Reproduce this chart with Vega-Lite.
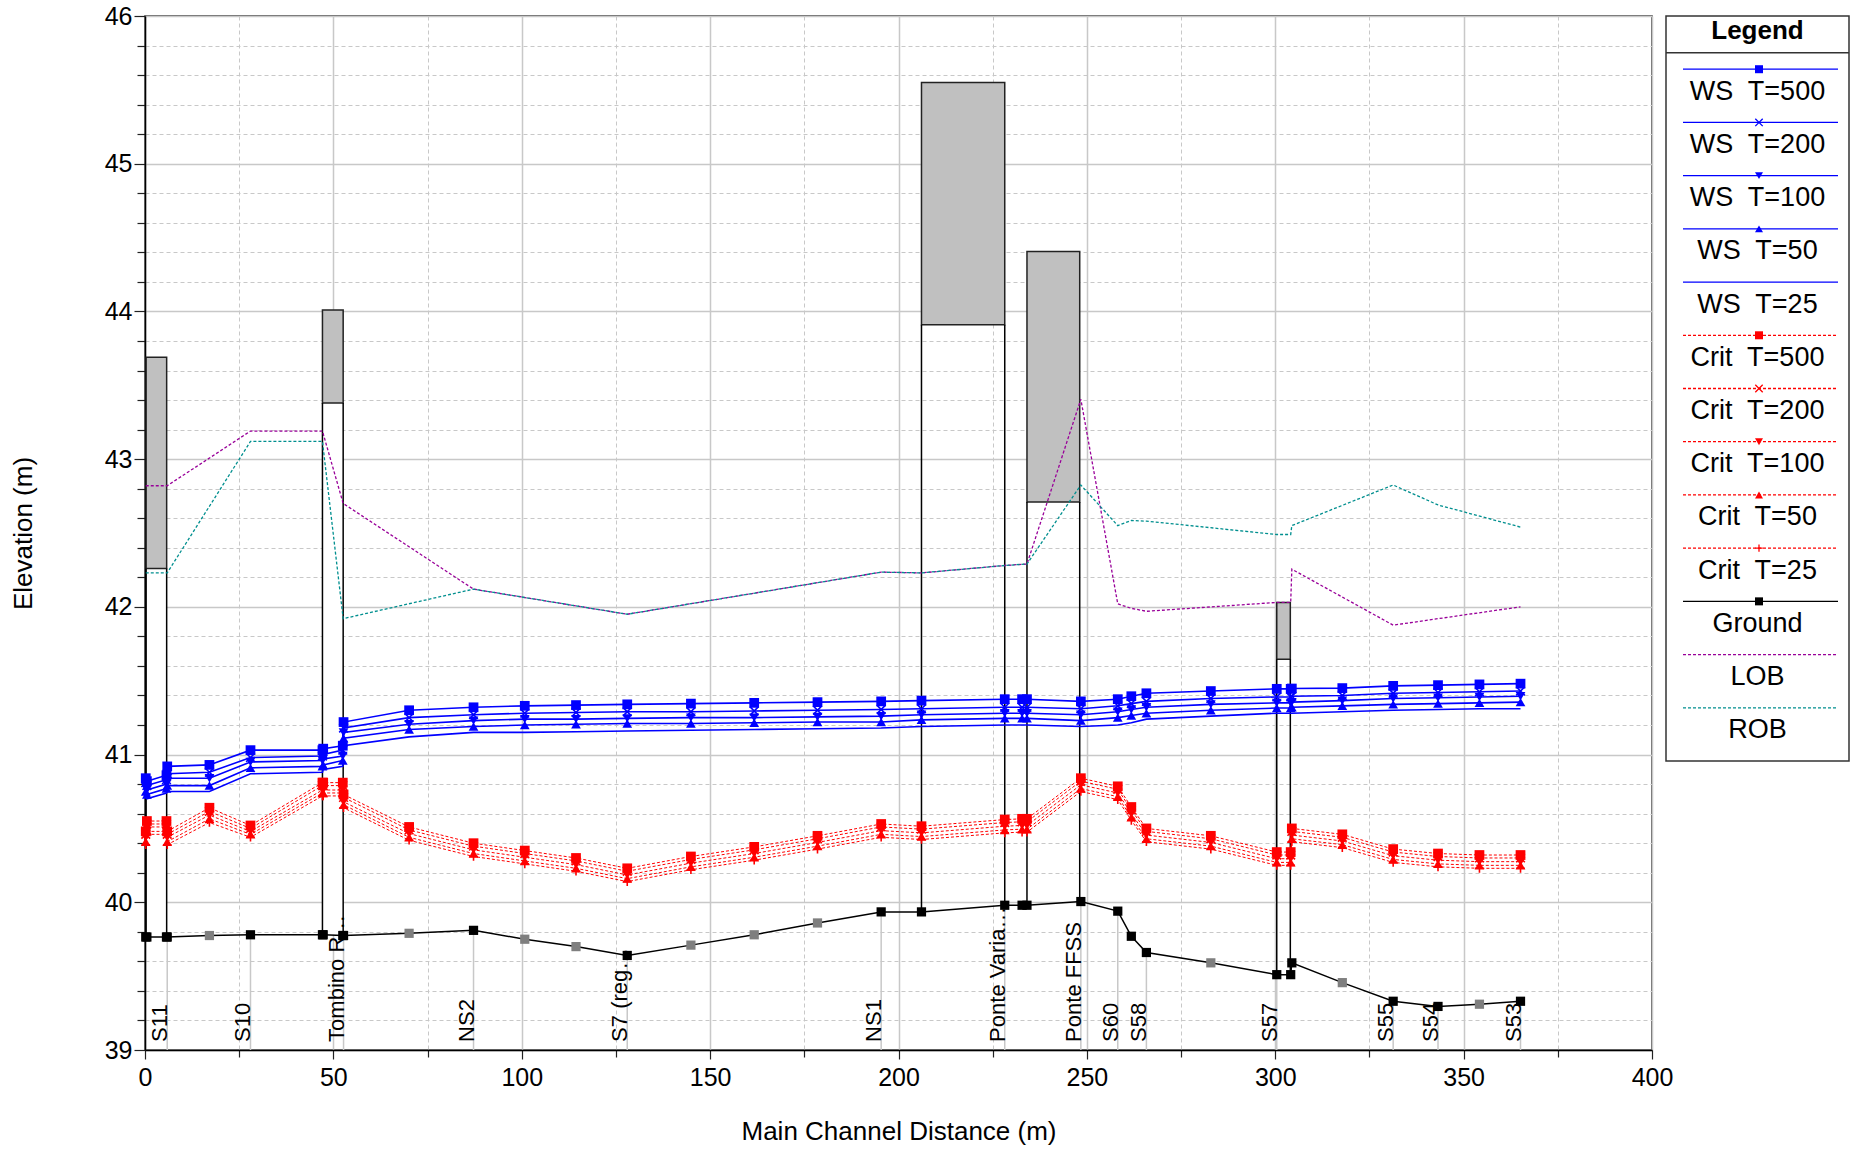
{
  "$schema": "https://vega.github.io/schema/vega-lite/v6.json",
  "padding": {"left": 9, "top": 3, "right": 0, "bottom": 0},
  "spacing": 14,
  "bounds": "flush",
  "config": {
    "font": "Liberation Sans",
    "view": {"stroke": "#333333", "strokeWidth": 1.5}
  },
  "datasets": {
    "st": [
      {"x":0.2,"g":39.765,"interp":"no","w500":40.84,"w200":40.81,"w100":40.78,"w50":40.75,"w25":40.72,"c500":40.48,"c200":40.46,"c100":40.44,"c50":40.41,"c25":40.39},
      {"x":0.5,"g":39.765,"interp":"no","w500":40.82,"w200":40.79,"w100":40.76,"w50":40.73,"w25":40.70,"c500":40.55,"c200":40.53,"c100":40.51,"c50":40.48,"c25":40.46},
      {"x":5.7,"g":39.765,"interp":"no","w500":40.86,"w200":40.83,"w100":40.80,"w50":40.77,"w25":40.74,"c500":40.55,"c200":40.53,"c100":40.51,"c50":40.48,"c25":40.46},
      {"x":5.9,"g":39.765,"interp":"no","w500":40.92,"w200":40.87,"w100":40.84,"w50":40.79,"w25":40.75,"c500":40.48,"c200":40.46,"c100":40.44,"c50":40.41,"c25":40.39},
      {"x":17.1,"g":39.775,"interp":"yes","w500":40.93,"w200":40.88,"w100":40.84,"w50":40.79,"w25":40.75,"c500":40.64,"c200":40.615,"c100":40.59,"c50":40.565,"c25":40.54},
      {"x":28.0,"g":39.78,"interp":"no","w500":41.03,"w200":40.98,"w100":40.95,"w50":40.91,"w25":40.87,"c500":40.52,"c200":40.50,"c100":40.48,"c50":40.46,"c25":40.44},
      {"x":47.1,"g":39.78,"interp":"no","w500":41.03,"w200":40.99,"w100":40.96,"w50":40.92,"w25":40.88,"c500":40.81,"c200":40.79,"c100":40.76,"c50":40.74,"c25":40.72},
      {"x":47.3,"g":39.78,"interp":"no","w500":41.04,"w200":41.00,"w100":40.97,"w50":40.93,"w25":40.90,"c500":40.81,"c200":40.79,"c100":40.76,"c50":40.74,"c25":40.72},
      {"x":52.5,"g":39.775,"interp":"no","w500":41.06,"w200":41.03,"w100":40.99,"w50":40.96,"w25":40.92,"c500":40.81,"c200":40.79,"c100":40.76,"c50":40.74,"c25":40.72},
      {"x":52.7,"g":39.775,"interp":"no","w500":41.22,"w200":41.18,"w100":41.15,"w50":41.11,"w25":41.06,"c500":40.73,"c200":40.71,"c100":40.68,"c50":40.66,"c25":40.64},
      {"x":70.1,"g":39.79,"interp":"yes","w500":41.30,"w200":41.25,"w100":41.205,"w50":41.17,"w25":41.12,"c500":40.51,"c200":40.49,"c100":40.465,"c50":40.44,"c25":40.42},
      {"x":87.2,"g":39.81,"interp":"no","w500":41.32,"w200":41.27,"w100":41.23,"w50":41.19,"w25":41.15,"c500":40.40,"c200":40.38,"c100":40.355,"c50":40.33,"c25":40.31},
      {"x":100.8,"g":39.75,"interp":"yes","w500":41.33,"w200":41.28,"w100":41.24,"w50":41.20,"w25":41.15,"c500":40.35,"c200":40.33,"c100":40.305,"c50":40.28,"c25":40.26},
      {"x":114.4,"g":39.70,"interp":"yes","w500":41.335,"w200":41.285,"w100":41.24,"w50":41.205,"w25":41.155,"c500":40.30,"c200":40.28,"c100":40.255,"c50":40.23,"c25":40.21},
      {"x":128.0,"g":39.64,"interp":"no","w500":41.34,"w200":41.29,"w100":41.245,"w50":41.21,"w25":41.16,"c500":40.23,"c200":40.21,"c100":40.185,"c50":40.16,"c25":40.14},
      {"x":144.9,"g":39.71,"interp":"yes","w500":41.345,"w200":41.29,"w100":41.25,"w50":41.21,"w25":41.165,"c500":40.31,"c200":40.29,"c100":40.265,"c50":40.24,"c25":40.22},
      {"x":161.7,"g":39.78,"interp":"yes","w500":41.35,"w200":41.295,"w100":41.25,"w50":41.215,"w25":41.17,"c500":40.375,"c200":40.355,"c100":40.33,"c50":40.305,"c25":40.285},
      {"x":178.5,"g":39.86,"interp":"yes","w500":41.355,"w200":41.30,"w100":41.255,"w50":41.22,"w25":41.175,"c500":40.45,"c200":40.43,"c100":40.405,"c50":40.38,"c25":40.36},
      {"x":195.4,"g":39.935,"interp":"no","w500":41.36,"w200":41.305,"w100":41.26,"w50":41.22,"w25":41.18,"c500":40.53,"c200":40.51,"c100":40.485,"c50":40.46,"c25":40.44},
      {"x":206.1,"g":39.935,"interp":"no","w500":41.365,"w200":41.31,"w100":41.27,"w50":41.235,"w25":41.19,"c500":40.515,"c200":40.495,"c100":40.47,"c50":40.445,"c25":40.425},
      {"x":228.2,"g":39.98,"interp":"no","w500":41.375,"w200":41.32,"w100":41.28,"w50":41.245,"w25":41.20,"c500":40.56,"c200":40.54,"c100":40.515,"c50":40.49,"c25":40.47},
      {"x":232.8,"g":39.98,"interp":"no","w500":41.375,"w200":41.32,"w100":41.28,"w50":41.245,"w25":41.20,"c500":40.565,"c200":40.545,"c100":40.52,"c50":40.495,"c25":40.475},
      {"x":234.1,"g":39.98,"interp":"no","w500":41.375,"w200":41.32,"w100":41.28,"w50":41.245,"w25":41.20,"c500":40.565,"c200":40.545,"c100":40.52,"c50":40.495,"c25":40.475},
      {"x":248.4,"g":40.005,"interp":"no","w500":41.36,"w200":41.31,"w100":41.27,"w50":41.23,"w25":41.19,"c500":40.84,"c200":40.82,"c100":40.795,"c50":40.77,"c25":40.75},
      {"x":258.2,"g":39.94,"interp":"no","w500":41.375,"w200":41.33,"w100":41.29,"w50":41.25,"w25":41.20,"c500":40.785,"c200":40.765,"c100":40.74,"c50":40.715,"c25":40.695},
      {"x":261.8,"g":39.77,"interp":"no","w500":41.395,"w200":41.345,"w100":41.305,"w50":41.265,"w25":41.215,"c500":40.645,"c200":40.625,"c100":40.60,"c50":40.575,"c25":40.555},
      {"x":265.8,"g":39.66,"interp":"no","w500":41.415,"w200":41.36,"w100":41.32,"w50":41.28,"w25":41.24,"c500":40.50,"c200":40.48,"c100":40.455,"c50":40.43,"c25":40.41},
      {"x":282.9,"g":39.59,"interp":"yes","w500":41.43,"w200":41.38,"w100":41.34,"w50":41.30,"w25":41.26,"c500":40.45,"c200":40.43,"c100":40.405,"c50":40.38,"c25":40.36},
      {"x":300.4,"g":39.51,"interp":"no","w500":41.445,"w200":41.39,"w100":41.35,"w50":41.315,"w25":41.28,"c500":40.34,"c200":40.32,"c100":40.295,"c50":40.27,"c25":40.25},
      {"x":304.1,"g":39.51,"interp":"no","w500":41.445,"w200":41.39,"w100":41.35,"w50":41.315,"w25":41.28,"c500":40.34,"c200":40.32,"c100":40.295,"c50":40.27,"c25":40.25},
      {"x":304.4,"g":39.59,"interp":"no","w500":41.447,"w200":41.395,"w100":41.355,"w50":41.32,"w25":41.28,"c500":40.50,"c200":40.48,"c100":40.455,"c50":40.43,"c25":40.41},
      {"x":317.8,"g":39.456,"interp":"yes","w500":41.45,"w200":41.40,"w100":41.365,"w50":41.33,"w25":41.29,"c500":40.46,"c200":40.44,"c100":40.415,"c50":40.39,"c25":40.37},
      {"x":331.3,"g":39.33,"interp":"no","w500":41.465,"w200":41.415,"w100":41.38,"w50":41.34,"w25":41.30,"c500":40.36,"c200":40.34,"c100":40.315,"c50":40.29,"c25":40.27},
      {"x":343.2,"g":39.295,"interp":"no","w500":41.47,"w200":41.42,"w100":41.385,"w50":41.345,"w25":41.305,"c500":40.33,"c200":40.31,"c100":40.285,"c50":40.26,"c25":40.24},
      {"x":354.2,"g":39.31,"interp":"yes","w500":41.475,"w200":41.425,"w100":41.39,"w50":41.35,"w25":41.31,"c500":40.32,"c200":40.30,"c100":40.275,"c50":40.25,"c25":40.23},
      {"x":365.1,"g":39.33,"interp":"no","w500":41.48,"w200":41.43,"w100":41.395,"w50":41.355,"w25":41.31,"c500":40.32,"c200":40.30,"c100":40.275,"c50":40.25,"c25":40.23}
    ],
    "banks": [
      {"x":0.2,"lob":42.82,"rob":42.23},
      {"x":5.9,"lob":42.82,"rob":42.23},
      {"x":28.0,"lob":43.19,"rob":43.12},
      {"x":47.1,"lob":43.19,"rob":43.12},
      {"x":52.6,"lob":42.70,"rob":41.92},
      {"x":87.2,"lob":42.12,"rob":42.12},
      {"x":128.0,"lob":41.95,"rob":41.95},
      {"x":195.4,"lob":42.235,"rob":42.235},
      {"x":206.1,"lob":42.23,"rob":42.23},
      {"x":228.2,"lob":42.28,"rob":42.28},
      {"x":234.1,"lob":42.29,"rob":42.29},
      {"x":248.4,"lob":43.405,"rob":42.825},
      {"x":258.2,"lob":42.02,"rob":42.55},
      {"x":261.8,"lob":41.99,"rob":42.585},
      {"x":265.8,"lob":41.97,"rob":42.58},
      {"x":300.4,"lob":42.03,"rob":42.49},
      {"x":304.1,"lob":42.03,"rob":42.49},
      {"x":304.4,"lob":42.255,"rob":42.55},
      {"x":331.3,"lob":41.876,"rob":42.825},
      {"x":343.2,"lob":41.92,"rob":42.69},
      {"x":365.1,"lob":42.0,"rob":42.54}
    ],
    "labels": [
      {"x":5.9,"g":39.765,"label":"S11"},
      {"x":28.0,"g":39.78,"label":"S10"},
      {"x":52.7,"g":39.775,"label":"Tombino R…"},
      {"x":87.2,"g":39.81,"label":"NS2"},
      {"x":128.0,"g":39.64,"label":"S7 (reg…"},
      {"x":195.4,"g":39.935,"label":"NS1"},
      {"x":228.2,"g":39.98,"label":"Ponte Varia…"},
      {"x":248.4,"g":40.005,"label":"Ponte FFSS"},
      {"x":258.2,"g":39.94,"label":"S60"},
      {"x":265.8,"g":39.66,"label":"S58"},
      {"x":300.4,"g":39.51,"label":"S57"},
      {"x":331.3,"g":39.33,"label":"S55"},
      {"x":343.2,"g":39.295,"label":"S54"},
      {"x":365.1,"g":39.33,"label":"S53"}
    ],
    "structs": [
      {"name":"S11","type":"culvert","x1":0.3,"x2":5.75,"g1":39.765,"g2":39.765,"lc":42.26,"top":43.69},
      {"name":"Tombino","type":"culvert","x1":47.1,"x2":52.6,"g1":39.78,"g2":39.775,"lc":43.38,"top":44.01},
      {"name":"Ponte Varia","type":"bridge","x1":206.1,"x2":228.2,"g1":39.935,"g2":39.98,"lc":43.91,"top":45.55},
      {"name":"Ponte FFSS","type":"bridge","x1":234.1,"x2":248.1,"g1":39.98,"g2":40.005,"lc":42.71,"top":44.405},
      {"name":"S57","type":"bridge","x1":300.4,"x2":304.0,"g1":39.51,"g2":39.51,"lc":41.645,"top":42.03}
    ],
    "leg": [
      {"i":1,"k":"w500","label":"WS\u00a0 T=500"},
      {"i":2,"k":"w200","label":"WS\u00a0 T=200"},
      {"i":3,"k":"w100","label":"WS\u00a0 T=100"},
      {"i":4,"k":"w50","label":"WS\u00a0 T=50"},
      {"i":5,"k":"w25","label":"WS\u00a0 T=25"},
      {"i":6,"k":"c500","label":"Crit\u00a0 T=500"},
      {"i":7,"k":"c200","label":"Crit\u00a0 T=200"},
      {"i":8,"k":"c100","label":"Crit\u00a0 T=100"},
      {"i":9,"k":"c50","label":"Crit\u00a0 T=50"},
      {"i":10,"k":"c25","label":"Crit\u00a0 T=25"},
      {"i":11,"k":"ground","label":"Ground"},
      {"i":12,"k":"lob","label":"LOB"},
      {"i":13,"k":"rob","label":"ROB"}
    ]
  },
  "hconcat": [
    {
      "width": 1507,
      "height": 1034,
      "layer": [
        {
          "data": {"name": "st"},
          "mark": {"type": "line", "color": "#000000", "strokeWidth": 1.5, "opacity": 0},
          "encoding": {
            "x": {"field": "x", "type": "quantitative", "scale": {"domain": [0, 400], "nice": false, "zero": false},
              "axis": {
                "title": "Main Channel Distance (m)",
                "values": [0,25,50,75,100,125,150,175,200,225,250,275,300,325,350,375,400],
                "tickCount": 50,
                "labelExpr": "abs(datum.value / 50 - round(datum.value / 50)) < 0.001 ? format(datum.value, 'd') : ''",
                "grid": true, "gridColor": "#c8c8c8",
                "gridDash": {"condition": {"test": "abs(datum.value / 50 - round(datum.value / 50)) > 0.001", "value": [4, 3]}, "value": []},
                "gridWidth": {"condition": {"test": "abs(datum.value / 50 - round(datum.value / 50)) > 0.001", "value": 1}, "value": 1.5},
                "tickSize": {"condition": {"test": "abs(datum.value / 50 - round(datum.value / 50)) > 0.001", "value": 7}, "value": 9},
                "tickColor": "#222222", "tickWidth": 1.2,
                "domainColor": "#000000", "domainWidth": 1.5,
                "labelFontSize": 25, "labelColor": "#000000", "labelPadding": 6,
                "labelOverlap": false, "labelFlush": false, "labelBound": false,
                "titleFontSize": 26, "titleFontWeight": "normal", "titleColor": "#000000", "titlePadding": 28
              }},
            "y": {"field": "g", "type": "quantitative", "scale": {"domain": [39, 46], "nice": false, "zero": false},
              "axis": {
                "title": "Elevation (m)",
                "values": [39,39.2,39.4,39.6,39.8,40,40.2,40.4,40.6,40.8,41,41.2,41.4,41.6,41.8,42,42.2,42.4,42.6,42.8,43,43.2,43.4,43.6,43.8,44,44.2,44.4,44.6,44.8,45,45.2,45.4,45.6,45.8,46],
                "tickCount": 50,
                "labelExpr": "abs(datum.value - round(datum.value)) < 0.001 ? format(datum.value, 'd') : ''",
                "labelFontSize": 25,
                "grid": true, "gridColor": "#c8c8c8",
                "gridDash": {"condition": {"test": "abs(datum.value - round(datum.value)) > 0.001", "value": [4, 3]}, "value": []},
                "gridWidth": {"condition": {"test": "abs(datum.value - round(datum.value)) > 0.001", "value": 1}, "value": 1.5},
                "tickSize": {"condition": {"test": "abs(datum.value - round(datum.value)) > 0.001", "value": 8}, "value": 11},
                "tickColor": "#222222", "tickWidth": 1.2,
                "domainColor": "#000000", "domainWidth": 1.5,
                "labelColor": "#000000", "labelPadding": 2,
                "labelOverlap": false, "labelFlush": false, "labelBound": false,
                "titleFontSize": 26, "titleFontWeight": "normal", "titleColor": "#000000", "titlePadding": 68
              }}
          }
        },
        {
          "data": {"name": "labels"},
          "mark": {"type": "rule", "color": "#c8c8c8", "strokeWidth": 1.5},
          "encoding": {
            "x": {"field": "x", "type": "quantitative"},
            "y": {"field": "g", "type": "quantitative"},
            "y2": {"datum": 39}
          }
        },
        {
          "data": {"name": "structs"},
          "transform": [{"filter": {"field": "type", "equal": "culvert"}}],
          "mark": {"type": "rect", "fill": "#ffffff", "strokeWidth": 0},
          "encoding": {
            "x": {"field": "x1", "type": "quantitative"},
            "x2": {"field": "x2"},
            "y": {"field": "g1", "type": "quantitative"},
            "y2": {"field": "lc"}
          }
        },
        {
          "data": {"name": "structs"},
          "mark": {"type": "rect", "fill": "#c0c0c0", "stroke": "#222222", "strokeWidth": 1.5},
          "encoding": {
            "x": {"field": "x1", "type": "quantitative"},
            "x2": {"field": "x2"},
            "y": {"field": "lc", "type": "quantitative"},
            "y2": {"field": "top"}
          }
        },
        {
          "data": {"name": "structs"},
          "mark": {"type": "rule", "color": "#000000", "strokeWidth": 1.5},
          "encoding": {
            "x": {"field": "x1", "type": "quantitative"},
            "y": {"field": "g1", "type": "quantitative"},
            "y2": {"field": "lc"}
          }
        },
        {
          "data": {"name": "structs"},
          "mark": {"type": "rule", "color": "#000000", "strokeWidth": 1.5},
          "encoding": {
            "x": {"field": "x2", "type": "quantitative"},
            "y": {"field": "g2", "type": "quantitative"},
            "y2": {"field": "lc"}
          }
        },
        {
          "data": {"name": "banks"},
          "mark": {"type": "line", "color": "#990099", "strokeWidth": 1.3, "strokeDash": [3, 2]},
          "encoding": {
            "x": {"field": "x", "type": "quantitative"},
            "y": {"field": "lob", "type": "quantitative"}
          }
        },
        {
          "data": {"name": "banks"},
          "mark": {"type": "line", "color": "#008f8f", "strokeWidth": 1.3, "strokeDash": [3, 2]},
          "encoding": {
            "x": {"field": "x", "type": "quantitative"},
            "y": {"field": "rob", "type": "quantitative"}
          }
        },
        {
          "data": {"name": "st"},
          "transform": [{"fold": ["c500", "c200", "c100", "c50", "c25"], "as": ["k", "v"]}],
          "mark": {"type": "line", "color": "#ff0000", "strokeWidth": 1, "strokeDash": [3, 2]},
          "encoding": {
            "x": {"field": "x", "type": "quantitative"},
            "y": {"field": "v", "type": "quantitative"},
            "detail": {"field": "k", "type": "nominal"}
          }
        },
        {
          "data": {"name": "st"},
          "transform": [{"fold": ["c500", "c100", "c50"], "as": ["k", "v"]}],
          "mark": {"type": "point", "filled": true, "color": "#ff0000", "size": 95, "opacity": 1, "strokeWidth": 0},
          "encoding": {
            "x": {"field": "x", "type": "quantitative"},
            "y": {"field": "v", "type": "quantitative"},
            "shape": {"field": "k", "type": "nominal", "legend": null,
              "scale": {"domain": ["w500","w200","w100","w50","c500","c200","c100","c50","c25","ground"],
                "range": ["square","M-1,-1L1,1M-1,1L1,-1","triangle-down","triangle-up","square","M-1,-1L1,1M-1,1L1,-1","triangle-down","triangle-up","M-1,0L1,0M0,-1L0,1","square"]}}
          }
        },
        {
          "data": {"name": "st"},
          "transform": [{"fold": ["c200", "c25"], "as": ["k", "v"]}],
          "mark": {"type": "point", "filled": false, "color": "#ff0000", "size": 75, "opacity": 1, "strokeWidth": 1.6},
          "encoding": {
            "x": {"field": "x", "type": "quantitative"},
            "y": {"field": "v", "type": "quantitative"},
            "shape": {"field": "k", "type": "nominal", "legend": null,
              "scale": {"domain": ["w500","w200","w100","w50","c500","c200","c100","c50","c25","ground"],
                "range": ["square","M-1,-1L1,1M-1,1L1,-1","triangle-down","triangle-up","square","M-1,-1L1,1M-1,1L1,-1","triangle-down","triangle-up","M-1,0L1,0M0,-1L0,1","square"]}}
          }
        },
        {
          "data": {"name": "st"},
          "transform": [{"fold": ["w500", "w200", "w100", "w50", "w25"], "as": ["k", "v"]}],
          "mark": {"type": "line", "color": "#0000ff", "strokeWidth": 1.6},
          "encoding": {
            "x": {"field": "x", "type": "quantitative"},
            "y": {"field": "v", "type": "quantitative"},
            "detail": {"field": "k", "type": "nominal"}
          }
        },
        {
          "data": {"name": "st"},
          "transform": [{"fold": ["w500", "w100", "w50"], "as": ["k", "v"]}],
          "mark": {"type": "point", "filled": true, "color": "#0000ff", "size": 95, "opacity": 1, "strokeWidth": 0},
          "encoding": {
            "x": {"field": "x", "type": "quantitative"},
            "y": {"field": "v", "type": "quantitative"},
            "shape": {"field": "k", "type": "nominal", "legend": null,
              "scale": {"domain": ["w500","w200","w100","w50","c500","c200","c100","c50","c25","ground"],
                "range": ["square","M-1,-1L1,1M-1,1L1,-1","triangle-down","triangle-up","square","M-1,-1L1,1M-1,1L1,-1","triangle-down","triangle-up","M-1,0L1,0M0,-1L0,1","square"]}}
          }
        },
        {
          "data": {"name": "st"},
          "transform": [{"fold": ["w200"], "as": ["k", "v"]}],
          "mark": {"type": "point", "filled": false, "color": "#0000ff", "size": 75, "opacity": 1, "strokeWidth": 1.6},
          "encoding": {
            "x": {"field": "x", "type": "quantitative"},
            "y": {"field": "v", "type": "quantitative"},
            "shape": {"field": "k", "type": "nominal", "legend": null,
              "scale": {"domain": ["w500","w200","w100","w50","c500","c200","c100","c50","c25","ground"],
                "range": ["square","M-1,-1L1,1M-1,1L1,-1","triangle-down","triangle-up","square","M-1,-1L1,1M-1,1L1,-1","triangle-down","triangle-up","M-1,0L1,0M0,-1L0,1","square"]}}
          }
        },
        {
          "data": {"name": "st"},
          "mark": {"type": "line", "color": "#000000", "strokeWidth": 1.5},
          "encoding": {
            "x": {"field": "x", "type": "quantitative"},
            "y": {"field": "g", "type": "quantitative"}
          }
        },
        {
          "data": {"name": "st"},
          "mark": {"type": "point", "shape": "square", "filled": true, "size": 85, "opacity": 1, "strokeWidth": 0},
          "encoding": {
            "x": {"field": "x", "type": "quantitative"},
            "y": {"field": "g", "type": "quantitative"},
            "fill": {"field": "interp", "type": "nominal", "legend": null,
              "scale": {"domain": ["no", "yes"], "range": ["#000000", "#7f7f7f"]}}
          }
        },
        {
          "data": {"name": "labels"},
          "mark": {"type": "text", "angle": 270, "align": "left", "baseline": "alphabetic", "fontSize": 22, "color": "#000000"},
          "encoding": {
            "x": {"field": "x", "type": "quantitative"},
            "y": {"datum": 39.055, "type": "quantitative"},
            "text": {"field": "label", "type": "nominal"}
          }
        }
      ]
    },
    {
      "width": 183,
      "height": 745,
      "layer": [
        {
          "data": {"values": [{"t": "Legend"}]},
          "mark": {"type": "text", "fontSize": 26, "fontWeight": "bold", "align": "center", "baseline": "middle", "color": "#000000"},
          "encoding": {
            "x": {"datum": 91.5, "type": "quantitative", "scale": {"domain": [0, 183], "nice": false, "zero": false}, "axis": null},
            "y": {"datum": 0.29, "type": "quantitative", "scale": {"domain": [0, 14], "nice": false, "zero": false, "reverse": true}, "axis": null},
            "text": {"field": "t", "type": "nominal"}
          }
        },
        {
          "data": {"values": [{"t": "sep"}]},
          "mark": {"type": "rule", "color": "#333333", "strokeWidth": 1.5},
          "encoding": {
            "y": {"datum": 0.69, "type": "quantitative", "axis": null}
          }
        },
        {
          "data": {"name": "leg"},
          "mark": {"type": "rule", "strokeWidth": 1.3},
          "encoding": {
            "x": {"datum": 17, "type": "quantitative", "axis": null},
            "x2": {"datum": 172},
            "y": {"field": "i", "type": "quantitative", "axis": null},
            "color": {"field": "k", "type": "nominal", "legend": null,
              "scale": {"domain": ["w500","w200","w100","w50","w25","c500","c200","c100","c50","c25","ground","lob","rob"],
                "range": ["#0000ff","#0000ff","#0000ff","#0000ff","#0000ff","#ff0000","#ff0000","#ff0000","#ff0000","#ff0000","#000000","#990099","#008f8f"]}},
            "strokeDash": {"field": "k", "type": "nominal", "legend": null,
              "scale": {"domain": ["w500","w200","w100","w50","w25","c500","c200","c100","c50","c25","ground","lob","rob"],
                "range": [[1,0],[1,0],[1,0],[1,0],[1,0],[3,2],[3,2],[3,2],[3,2],[3,2],[1,0],[3,2],[3,2]]}}
          }
        },
        {
          "data": {"name": "leg"},
          "transform": [{"filter": {"field": "k", "oneOf": ["w500","w100","w50","c500","c100","c50","ground"]}}],
          "mark": {"type": "point", "filled": true, "size": 64, "opacity": 1, "strokeWidth": 0},
          "encoding": {
            "x": {"datum": 93, "type": "quantitative", "axis": null},
            "y": {"field": "i", "type": "quantitative", "axis": null},
            "color": {"field": "k", "type": "nominal", "legend": null,
              "scale": {"domain": ["w500","w200","w100","w50","w25","c500","c200","c100","c50","c25","ground","lob","rob"],
                "range": ["#0000ff","#0000ff","#0000ff","#0000ff","#0000ff","#ff0000","#ff0000","#ff0000","#ff0000","#ff0000","#000000","#990099","#008f8f"]}},
            "shape": {"field": "k", "type": "nominal", "legend": null,
              "scale": {"domain": ["w500","w200","w100","w50","c500","c200","c100","c50","c25","ground"],
                "range": ["square","M-1,-1L1,1M-1,1L1,-1","triangle-down","triangle-up","square","M-1,-1L1,1M-1,1L1,-1","triangle-down","triangle-up","M-1,0L1,0M0,-1L0,1","square"]}}
          }
        },
        {
          "data": {"name": "leg"},
          "transform": [{"filter": {"field": "k", "oneOf": ["w200","c200","c25"]}}],
          "mark": {"type": "point", "filled": false, "size": 55, "opacity": 1, "strokeWidth": 1.3},
          "encoding": {
            "x": {"datum": 93, "type": "quantitative", "axis": null},
            "y": {"field": "i", "type": "quantitative", "axis": null},
            "color": {"field": "k", "type": "nominal", "legend": null,
              "scale": {"domain": ["w500","w200","w100","w50","w25","c500","c200","c100","c50","c25","ground","lob","rob"],
                "range": ["#0000ff","#0000ff","#0000ff","#0000ff","#0000ff","#ff0000","#ff0000","#ff0000","#ff0000","#ff0000","#000000","#990099","#008f8f"]}},
            "shape": {"field": "k", "type": "nominal", "legend": null,
              "scale": {"domain": ["w500","w200","w100","w50","c500","c200","c100","c50","c25","ground"],
                "range": ["square","M-1,-1L1,1M-1,1L1,-1","triangle-down","triangle-up","square","M-1,-1L1,1M-1,1L1,-1","triangle-down","triangle-up","M-1,0L1,0M0,-1L0,1","square"]}}
          }
        },
        {
          "data": {"name": "leg"},
          "mark": {"type": "text", "fontSize": 27, "align": "center", "baseline": "middle", "dy": 22.5, "color": "#000000"},
          "encoding": {
            "x": {"datum": 91.5, "type": "quantitative", "axis": null},
            "y": {"field": "i", "type": "quantitative", "axis": null},
            "text": {"field": "label", "type": "nominal"}
          }
        }
      ]
    }
  ]
}
